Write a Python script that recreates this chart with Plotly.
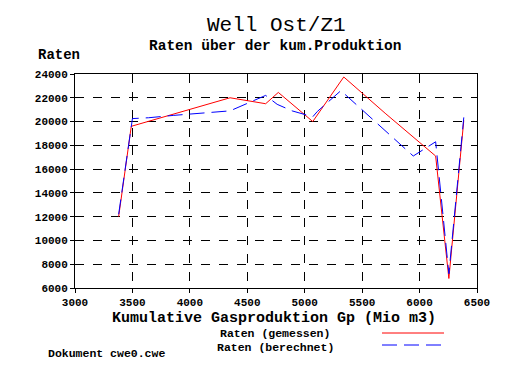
import plotly.graph_objects as go

# Data
gp_gemessen = [3380, 3490, 4350, 4660, 4770, 5070, 5340, 5700, 6140, 6255, 6385]
raten_gemessen = [12000, 19600, 22000, 21500, 22450, 20000, 23750, 20700, 17100, 6800, 20100]

gp_berechnet = [3380, 3500, 3640, 3860, 4350, 4500, 4660, 4760, 4890, 5070, 5110, 5315, 5945, 6140, 6255, 6385]
raten_berechnet = [12200, 20250, 20320, 20520, 20900, 21500, 22200, 21450, 20900, 20400, 20850, 22600, 17100, 18300, 7200, 20350]

x_ticks = [3000, 3500, 4000, 4500, 5000, 5500, 6000, 6500]
y_ticks = [6000, 8000, 10000, 12000, 14000, 16000, 18000, 20000, 22000, 24000]

FONT = "Liberation Mono, Courier New, monospace"

fig = go.Figure()
fig.add_trace(go.Scatter(x=gp_gemessen, y=raten_gemessen, mode="lines",
                         line=dict(color="#ff0000", width=1), name="Raten (gemessen)"))
fig.add_trace(go.Scatter(x=gp_berechnet, y=raten_berechnet, mode="lines",
                         line=dict(color="#0000ff", width=1, dash="15px,7px"), name="Raten (berechnet)"))

# page has an 8px body margin; compensate so the plot lands where the reference has it
OFF = 8
W, H = 517, 381
PL, PR, PT, PB = 75, 477, 74, 288   # plot area in reference pixels
L = PL - OFF
T = PT - OFF
R = W - (PR - OFF)
B = H - (PB - OFF)

def xp(px):
    return (px - PL) / (PR - PL)

def yp(py):
    return (PB - py) / (PB - PT)

fig.update_layout(
    width=W, height=H,
    margin=dict(l=L, r=R, t=T, b=B, autoexpand=False),
    paper_bgcolor="white", plot_bgcolor="white",
    showlegend=False,
    font=dict(family=FONT, color="black"),
    xaxis=dict(range=[3000, 6500], tickvals=x_ticks, ticktext=[str(v) for v in x_ticks],
               showgrid=True, gridcolor="black", griddash="dash", gridwidth=1,
               showline=True, linecolor="black", linewidth=1, mirror=True,
               ticks="outside", ticklen=4, tickcolor="black",
               tickfont=dict(family=FONT, size=11, color="black", weight="bold"),
               zeroline=False, automargin=False),
    yaxis=dict(range=[6000, 24000], tickvals=y_ticks, ticktext=[str(v) for v in y_ticks],
               showgrid=True, gridcolor="black", griddash="dash", gridwidth=1,
               showline=True, linecolor="black", linewidth=1, mirror=True,
               ticks="outside", ticklen=4, tickcolor="black",
               tickfont=dict(family=FONT, size=11, color="black", weight="bold"),
               zeroline=False, automargin=False),
)

ann = [
    dict(text="Well Ost/Z1", x=xp(276), y=yp(26), size=21, bold=False, anchor="center"),
    dict(text="Raten über der kum.Produktion", x=xp(275), y=yp(46), size=14.5, bold=True, anchor="center"),
    dict(text="Raten", x=xp(36), y=yp(55), size=14, bold=True, anchor="left"),
    dict(text="Kumulative Gasproduktion Gp (Mio m3)", x=xp(274), y=yp(318), size=15, bold=True, anchor="center"),
    dict(text="Raten (gemessen)", x=xp(275), y=yp(333), size=11.5, bold=True, anchor="center"),
    dict(text="Raten (berechnet)", x=xp(275), y=yp(347), size=11.5, bold=True, anchor="center"),
    dict(text="Dokument cwe0.cwe", x=xp(46), y=yp(353), size=11.5, bold=True, anchor="left"),
]
for a in ann:
    fig.add_annotation(text=a["text"], x=a["x"], y=a["y"], xref="paper", yref="paper",
                       xanchor=a["anchor"], yanchor="middle", showarrow=False,
                       font=dict(family=FONT, size=a["size"], color="black",
                                 weight="bold" if a["bold"] else "normal"))

# legend samples
fig.add_shape(type="line", xref="paper", yref="paper", x0=xp(382), x1=xp(444), y0=yp(333), y1=yp(333),
              line=dict(color="#ff0000", width=1))
fig.add_shape(type="line", xref="paper", yref="paper", x0=xp(382), x1=xp(444), y0=yp(345), y1=yp(345),
              line=dict(color="#0000ff", width=1, dash="15px,7px"))

fig.write_html("out.html")
